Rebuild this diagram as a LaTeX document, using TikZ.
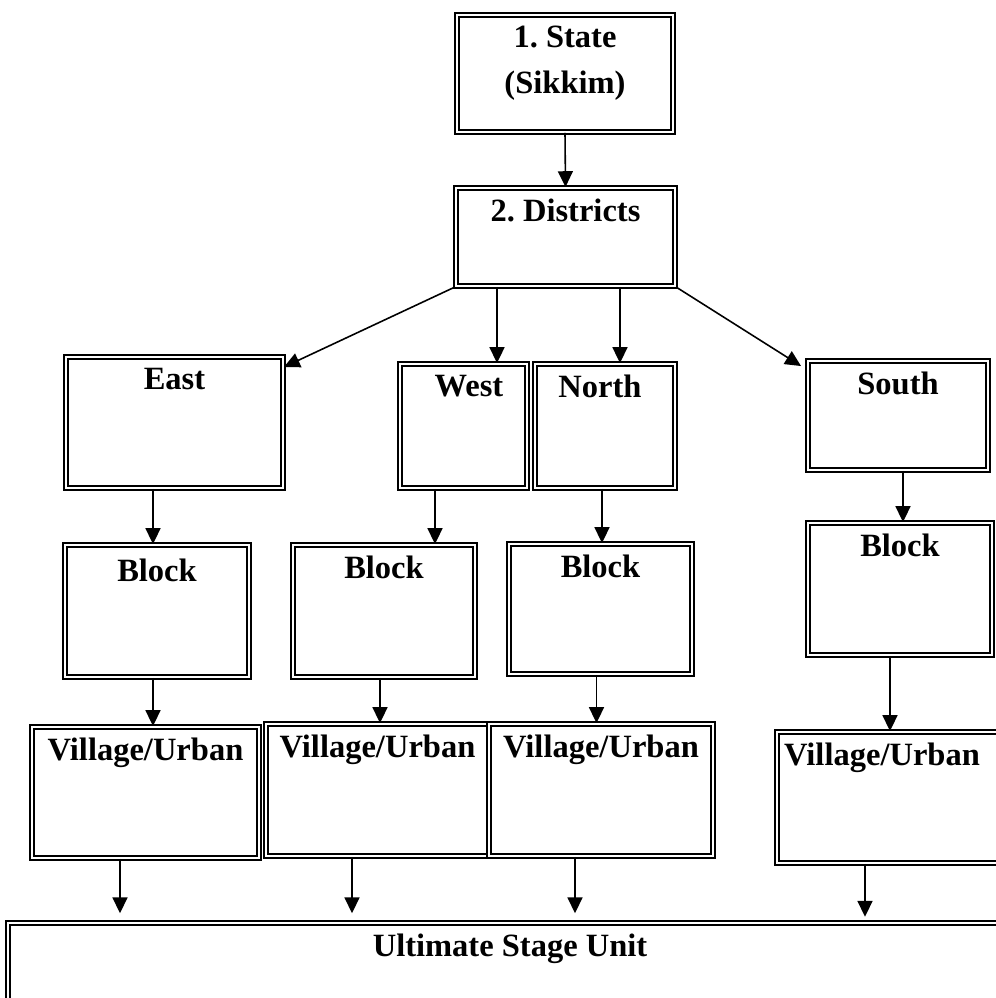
\documentclass[tikz,border=0pt]{standalone}
\usepackage{fontspec}
\setmainfont{Liberation Serif}
\usetikzlibrary{arrows.meta, fit}

\begin{document}
\begin{tikzpicture}[x=0.02cm, y=-0.02cm,
    unit/.style={draw, double, double distance=0.9pt, line width=1.1pt, inner sep=0pt},
    lbl/.style={font=\bfseries\fontsize{18.5}{22}\selectfont\frenchspacing, anchor=north, align=center, yshift=-0.12cm},
    arr/.style={-{Triangle[length=9pt, width=8.5pt]}, line width=0.9pt}]
    \useasboundingbox (0,0) rectangle (996,998);
    % state and districts
    \node[unit, fit={(457,15) (673,132)}, label={[lbl]north:{1. State\\[4pt](Sikkim)}}] (state) {};
    \node[unit, fit={(456,188) (675,286)}, label={[lbl]north:2. Districts}] (districts) {};
    % the four districts
    \node[unit, fit={(66,357) (283,488)}, label={[lbl]north:East}] (deast) {};
    \node[unit, fit={(400,364) (527,488)}, label={[lbl, xshift=0.11cm]north:West}] (dwest) {};
    \node[unit, fit={(535,364) (675,488)}, label={[lbl, xshift=-0.1cm]north:North}] (dnorth) {};
    \node[unit, fit={(808,361) (988,470)}, label={[lbl]north:South}] (dsouth) {};
    % blocks
    \node[unit, fit={(65,545) (249,677)}, label={[lbl, yshift=-0.06cm]north:Block}] (beast) {};
    \node[unit, fit={(293,545) (475,677)}, label={[lbl]north:Block}] (bwest) {};
    \node[unit, fit={(509,544) (692,674)}, label={[lbl]north:Block}] (bnorth) {};
    \node[unit, fit={(808,523) (992,655)}, label={[lbl]north:Block}] (bsouth) {};
    % village / urban
    \node[unit, fit={(32,727) (259,858)}, label={[lbl]north:Village/Urban}] (veast) {};
    \node[unit, fit={(266,724) (489,856)}, label={[lbl]north:Village/Urban}] (vwest) {};
    \node[unit, fit={(489,724) (713,856)}, label={[lbl]north:Village/Urban}] (vnorth) {};
    \node[unit, fit={(777,732) (1005,863)}, label={[lbl, xshift=-0.18cm]north:Village/Urban}] (vsouth) {};
    % last stage
    \node[unit, fit={(8,923) (1012,1012)}, label={[lbl]north:Ultimate Stage Unit}] (ultimate) {};

    \draw[arr] (state.south) -- (districts.north);
    \draw[arr] (districts.south west) -- ([yshift=-0.22cm]deast.north east);
    \draw[arr] ([xshift=-1.37cm]districts.south) -- ([xshift=-1.37cm]districts.south |- dwest.north);
    \draw[arr] ([xshift=1.09cm]districts.south) -- ([xshift=1.09cm]districts.south |- dnorth.north);
    \draw[arr] (districts.south east) -- ([xshift=-0.12cm, yshift=-0.12cm]dsouth.north west);

    \draw[arr] ([xshift=-0.43cm]deast.south) -- ([xshift=-0.43cm]deast.south |- beast.north);
    \draw[arr] ([xshift=-0.57cm]dwest.south) -- ([xshift=-0.57cm]dwest.south |- bwest.north);
    \draw[arr] ([xshift=-0.06cm]dnorth.south) -- ([xshift=-0.06cm]dnorth.south |- bnorth.north);
    \draw[arr] ([xshift=0.1cm]dsouth.south) -- ([xshift=0.1cm]dsouth.south |- bsouth.north);

    \draw[arr] ([xshift=-0.08cm]beast.south) -- ([xshift=-0.08cm]beast.south |- veast.north);
    \draw[arr] ([xshift=-0.08cm]bwest.south) -- ([xshift=-0.08cm]bwest.south |- vwest.north);
    \draw[arr] ([xshift=-0.08cm]bnorth.south) -- ([xshift=-0.08cm]bnorth.south |- vnorth.north);
    \draw[arr] ([xshift=-0.2cm]bsouth.south) -- ([xshift=-0.2cm]bsouth.south |- vsouth.north);

    \draw[arr, shorten >=5pt] ([xshift=-0.51cm]veast.south) -- ([xshift=-0.51cm]veast.south |- ultimate.north);
    \draw[arr, shorten >=5pt] ([xshift=-0.51cm]vwest.south) -- ([xshift=-0.51cm]vwest.south |- ultimate.north);
    \draw[arr, shorten >=5pt] ([xshift=-0.52cm]vnorth.south) -- ([xshift=-0.52cm]vnorth.south |- ultimate.north);
    \draw[arr, shorten >=3pt] ([xshift=-0.52cm]vsouth.south) -- ([xshift=-0.52cm]vsouth.south |- ultimate.north);
\end{tikzpicture}
\end{document}
